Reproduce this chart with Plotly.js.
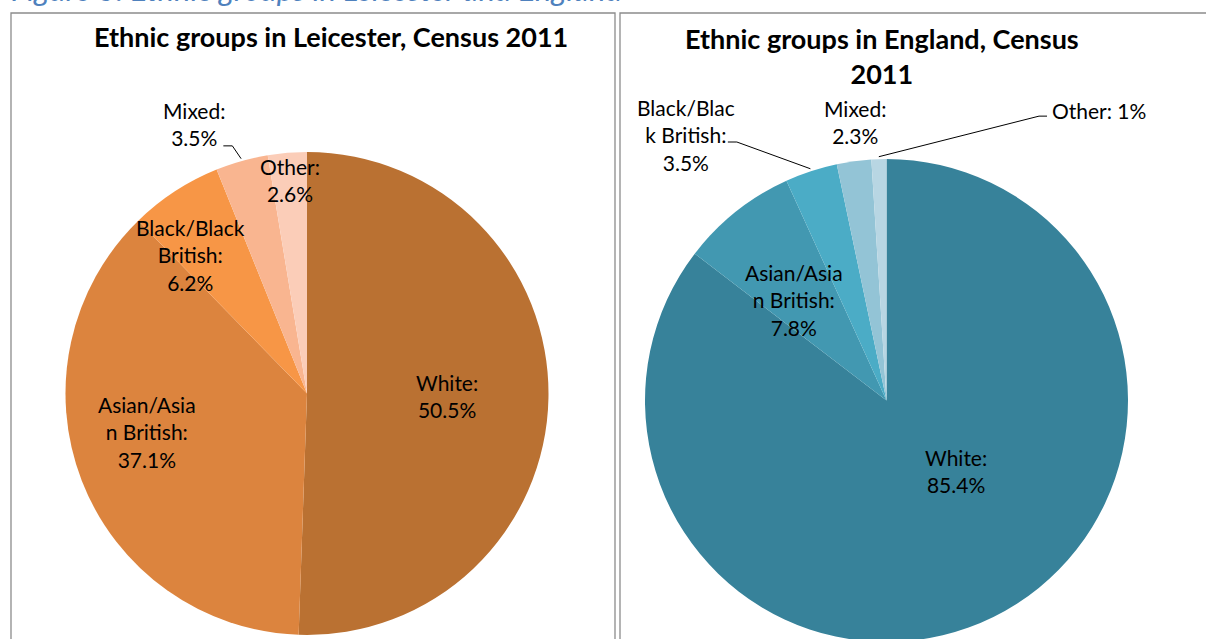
<!DOCTYPE html>
<html><head><meta charset="utf-8">
<script src="https://cdn.plot.ly/plotly-3.0.1.min.js"></script>
<style>html,body{margin:0;padding:0;overflow:hidden;background:#fff}#chart{width:1206px;height:660px}</style>
</head><body><div id="chart"></div>
<script>
// ---- data ----
const categories = ["White", "Asian/Asian British", "Black/Black British", "Mixed", "Other"];
const leicesterValues = [50.5, 37.1, 6.2, 3.5, 2.6];
const englandValues = [85.4, 7.8, 3.5, 2.3, 1];
// category names as wrapped in the reference labels
const leicesterNames = ["White", "Asian/Asia<br>n British", "Black/Black<br>British", "Mixed", "Other"];
const englandNames = ["White", "Asian/Asia<br>n British", "Black/Blac<br>k British", "Mixed", "Other"];
const leicesterSeps = [":<br>", ":<br>", ":<br>", ":<br>", ":<br>"];
const englandSeps = [":<br>", ":<br>", ":<br>", ":<br>", ": "];
const chartTitles = ["Ethnic groups in Leicester, Census 2011", "Ethnic groups in England, Census<br>2011"];
const figureCaption = "Figure 3: Ethnic groups in Leicester and England";

// ---- style / layout ----
const W = 1206, H = 660;
const leicesterColors = ["#BA7132", "#DC843E", "#F79646", "#F9B590", "#FBCDB8"];
const englandColors = ["#37829A", "#4298B1", "#4BACC6", "#93C4D6", "#B8D6E3"];
const labelFont = {family: "Lato, 'Open Sans', sans-serif", size: 21, color: "#000"};
const titleFont = {family: "Lato, 'Open Sans', sans-serif", size: 27, color: "#000", weight: 700};

const pies = [
  {cx: 307, cy: 393.5, r: 241.5, values: leicesterValues, names: leicesterNames, seps: leicesterSeps, colors: leicesterColors,
   // label placement: radial fraction and angular offset (deg) from slice middle
   place: [{f: 0.58, dA: 0}, {f: 0.68, dA: 7.6}, {f: 0.75, dA: -7}, {f: 1.21, dA: -7}, {f: 0.887, dA: 0}],
   leaders: {3: [[38, 22], [29, 22]]},
   title: {x: 331, y: 37}},
  {cx: 886.5, cy: 400.5, r: 241.5, values: englandValues, names: englandNames, seps: englandSeps, colors: englandColors,
   place: [{f: 0.41, dA: -18.3}, {f: 0.566, dA: -4.1}, {f: 1.378, dA: -18.9}, {f: 1.16, dA: 1.2}, {f: 1.49, dA: 38}],
   leaders: {2: [[51, 7], [42, 7]], 4: [[-60, 6], [-52, 6]]},
   title: {x: 882, y: 56}}
];

const px2x = p => p / W, px2y = p => 1 - p / H;

const traces = [], annotations = [], shapes = [];
pies.forEach(function (p) {
  traces.push({
    type: "pie", labels: categories, values: p.values, sort: false, direction: "clockwise", rotation: 0,
    marker: {colors: p.colors, line: {width: 0}},
    textinfo: "none", hoverinfo: "label+value", showlegend: false,
    domain: {x: [px2x(p.cx - p.r), px2x(p.cx + p.r)], y: [px2y(p.cy + p.r), px2y(p.cy - p.r)]}
  });
  const total = p.values.reduce((a, b) => a + b, 0);
  let cum = 0;
  p.values.forEach(function (v, i) {
    const mid = (cum + v / 2) / total * 2 * Math.PI;
    cum += v;
    const pl = p.place[i];
    const th = mid + pl.dA * Math.PI / 180;
    const lx = p.cx + pl.f * p.r * Math.sin(th);
    const ly = p.cy - pl.f * p.r * Math.cos(th);
    annotations.push({
      xref: "paper", yref: "paper", x: px2x(lx), y: px2y(ly), xanchor: "center", yanchor: "middle",
      text: p.names[i] + p.seps[i] + v + "%", showarrow: false, align: "center", font: labelFont
    });
    if (p.leaders[i]) {
      const ax = p.cx + 1.01 * p.r * Math.sin(mid), ay = p.cy - 1.01 * p.r * Math.cos(mid);
      const e1 = p.leaders[i][0], e2 = p.leaders[i][1];
      shapes.push({
        type: "path", xref: "paper", yref: "paper", layer: "above",
        path: "M" + px2x(ax) + "," + px2y(ay) + " L" + px2x(lx + e1[0]) + "," + px2y(ly + e1[1]) + " L" + px2x(lx + e2[0]) + "," + px2y(ly + e2[1]),
        line: {color: "#000", width: 1}
      });
    }
  });
});

chartTitles.forEach(function (t, k) {
  annotations.push({xref: "paper", yref: "paper", x: px2x(pies[k].title.x), y: px2y(pies[k].title.y),
    xanchor: "center", yanchor: "middle", text: "<b>" + t + "</b>", showarrow: false, align: "center", font: titleFont});
});

annotations.push({xref: "paper", yref: "paper", x: px2x(9), y: px2y(10), xanchor: "left", yanchor: "bottom",
  text: "<i>" + figureCaption + "</i>", showarrow: false, font: {family: "Lato, 'Open Sans', sans-serif", size: 31, color: "#4F81BD"}});

// chart area borders
shapes.push({type: "rect", xref: "paper", yref: "paper", x0: px2x(11), x1: px2x(615), y0: px2y(700), y1: px2y(13),
  line: {color: "#8C8C8C", width: 1.3}, layer: "below"});
shapes.push({type: "rect", xref: "paper", yref: "paper", x0: px2x(620), x1: px2x(1240), y0: px2y(700), y1: px2y(13),
  line: {color: "#8C8C8C", width: 1.3}, layer: "below"});

Plotly.newPlot("chart", traces, {
  width: W, height: H, margin: {l: 0, r: 0, t: 0, b: 0},
  paper_bgcolor: "#fff", plot_bgcolor: "#fff", showlegend: false,
  annotations: annotations, shapes: shapes
}, {displayModeBar: false, staticPlot: true});
</script></body></html>
